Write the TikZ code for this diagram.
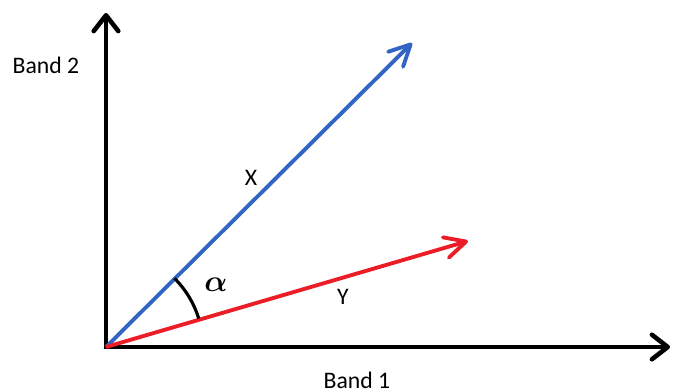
\documentclass[tikz,border=0pt]{standalone}
\usepackage{fontspec}
\setmainfont{Carlito}
\usepackage{amsmath,amssymb}
\usepackage{xcolor}
\usetikzlibrary{arrows.meta}
\definecolor{cBlue}{RGB}{50,100,195}
\definecolor{cRed}{RGB}{235,30,40}

\tikzset{
  vec/.style={line width=2.2pt,-{Straight Barb[length=12pt,width=12pt,line cap=round,round]}},
  axis/.style={black,line width=2.6pt,-{Straight Barb[length=9pt,width=14pt,line cap=round,round]}},
  lbl/.style={font=\fontsize{13.5}{16}\selectfont}
}

\begin{document}
\begin{tikzpicture}[x=0.02cm,y=-0.02cm]
  \useasboundingbox (0,0) rectangle (673,392);
  \coordinate (O) at (106,347);
  \coordinate (xEnd) at (670,347);
  \coordinate (yEnd) at (106,13);
  \coordinate (X) at (412,43);
  \coordinate (Y) at (468,241);
  \draw[axis,line cap=rect] (O) -- (xEnd);
  \draw[axis,line cap=rect] (O) -- (yEnd);
  \draw[vec,cBlue] (O) -- (X);
  \draw[vec,cRed] (O) -- (Y);
  % angle between the two vectors
  \draw[line width=1.8pt] ([shift={(-45:97)}]O) arc[start angle=-45,end angle=-17,radius=97];
  \node[lbl] (lblX) at (251,178) {X};
  \node[lbl] (lblY) at (343,297) {Y};
  \node[font=\fontsize{19}{22}\selectfont] (alpha) at (216,285) {$\boldsymbol{\alpha}$};
  \node[lbl] (band2) at (46,65) {Band 2};
  \node[lbl] (band1) at (357,380) {Band 1};
\end{tikzpicture}
\end{document}
